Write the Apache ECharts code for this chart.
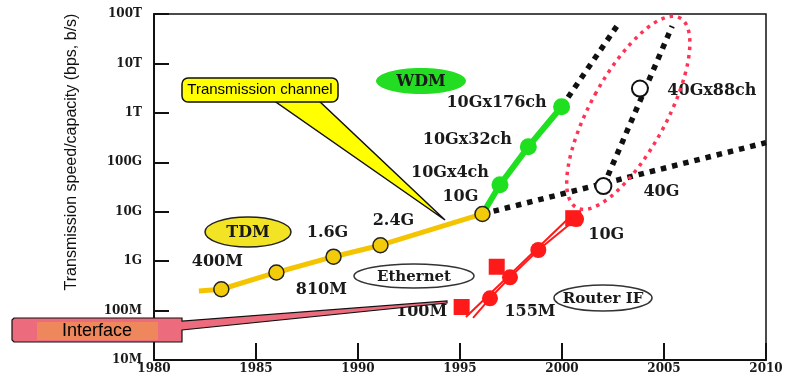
<!DOCTYPE html>
<html lang="en">
<head>
    <meta charset="UTF-8">
    <script src="https://cdn.jsdelivr.net/npm/echarts@6/dist/echarts.min.js"></script>
    <title>Transmission speed</title>
    <style>html, body { margin: 0; padding: 0; background: #fff; }</style>
</head>
<body>
<div id="chart_main" style="width: 790px; height: 378px"></div>
<script>

    // y axis names, one per decade from 10M up to 100T
    var yTickLabels = ['10M', '100M', '1G', '10G', '100G', '1T', '10T', '100T'];

    // TDM line (first point is only where the line starts)
    var tdmYears = [1982.2, 1983.3, 1986.0, 1988.8, 1991.1, 1996.1];
    var tdmBps = [2.5e8, 2.7e8, 5.9e8, 1.23e9, 2.1e9, 9e9];
    var tdmNames = ['', '400M', '810M', '1.6G', '2.4G', '10G'];

    // WDM, starting at the 10G TDM point
    var wdmYears = [1996.1, 1996.96, 1998.35, 1999.98];
    var wdmBps = [9e9, 3.5e10, 2.07e11, 1.33e12];
    var wdmNames = ['', '10Gx4ch', '10Gx32ch', '10Gx176ch'];

    // dotted projections
    var wdmTrendYears = [1999.98, 2002.84];
    var wdmTrendBps = [1.33e12, 7e13];
    var tdmTrendYears = [1996.1, 2010];
    var tdmTrendBps = [9e9, 2.5e11];
    var g40TrendYears = [2002.03, 2005.4];
    var g40TrendBps = [3.3e10, 5.7e13];

    // 40G open circles
    var g40Years = [2002.03, 2003.82];
    var g40Bps = [3.3e10, 3.1e12];
    var g40Names = ['40G', '40Gx88ch'];

    // Ethernet squares and its line
    var ethYears = [1995.08, 1996.8, 2000.55];
    var ethBps = [1.18e8, 7.7e8, 7.4e9];
    var ethNames = ['100M', '', '10G'];
    var ethLineYears = [1995.29, 2000.44];
    var ethLineBps = [7.4e7, 8.2e9];

    // Router interface circles (first point is the line start)
    var routerYears = [1995.64, 1996.47, 1997.45, 1998.84, 2000.69];
    var routerBps = [7.1e7, 1.77e8, 4.7e8, 1.68e9, 7.1e9];
    var routerNames = ['', '155M', '', '', ''];

    // label offsets (pixels from the point), layout only
    var tdmLabelOffsets = [null, [-4, -27], [45, 17], [-6, -24], [13, -24], [-22, -17]];
    var wdmLabelOffsets = [null, [-50, -12], [-61, -7], [-65, -4]];
    var g40LabelOffsets = [[58, 6], [72, 2]];
    var ethLabelOffsets = [[-40, 5], null, [33, 17]];
    var routerLabelOffsets = [null, [40, 14], null, null, null];

    // red dotted oval, centre in data units
    var ovalCenter = [2003.25, 1e12];

    var serifBold = {fontFamily: '"DejaVu Serif", serif', fontWeight: 'bold', color: '#1a1a1a'};

    function buildPoints(years, values, names, offsets, firstBare) {
        var out = [];
        for (var i = 0; i < years.length; i++) {
            var p = {value: [years[i], values[i]]};
            if (names && names[i]) {
                p.name = names[i];
                p.label = {show: true, offset: offsets[i]};
            }
            if (firstBare && i == 0) {
                p.symbol = 'none';
            }
            out.push(p);
        }
        return out;
    }

    function dotted(years, values) {
        return {
            type: 'line',
            data: buildPoints(years, values),
            symbol: 'none',
            lineStyle: {color: '#111', width: 5.5, type: [5.5, 6], cap: 'butt'},
            z: 2,
            silent: true
        };
    }

    var labelBase = {
        show: false,
        position: 'inside',
        formatter: '{b}',
        fontSize: 16,
        fontFamily: serifBold.fontFamily,
        fontWeight: 'bold',
        color: '#1a1a1a'
    };

    var Chart_Main = echarts.init(document.getElementById('chart_main'));

    var option = {
        animation: false,
        backgroundColor: '#fff',
        grid: {
            left: 154, right: 24, top: 14, bottom: 18,
            show: true, borderColor: '#111', borderWidth: 1.5,
            containLabel: false, outerBoundsMode: 'none'
        },
        xAxis: {
            type: 'value',
            min: 1980, max: 2010, interval: 5,
            axisLine: {show: true, lineStyle: {color: '#111', width: 2}},
            axisTick: {show: true, inside: true, length: 17, lineStyle: {color: '#111', width: 2}},
            axisLabel: {
                margin: 3, fontSize: 12, fontFamily: serifBold.fontFamily, fontWeight: 'bold', color: '#1a1a1a',
                formatter: function (v) { return String(v); }
            },
            splitLine: {show: false}
        },
        yAxis: {
            type: 'log', logBase: 10,
            min: 1e7, max: 1e14,
            axisLine: {show: true, lineStyle: {color: '#111', width: 2}},
            axisTick: {show: true, inside: true, length: 15, lineStyle: {color: '#111', width: 2}},
            axisLabel: {
                margin: 12, fontSize: 12, fontFamily: serifBold.fontFamily, fontWeight: 'bold', color: '#1a1a1a',
                formatter: function (v) {
                    var k = Math.round(Math.log10(v)) - 7;
                    return yTickLabels[k] || '';
                }
            },
            splitLine: {show: false}
        },
        series: [
            dotted(wdmTrendYears, wdmTrendBps),
            dotted(tdmTrendYears, tdmTrendBps),
            dotted(g40TrendYears, g40TrendBps),
            {
                name: 'WDM', type: 'line',
                data: buildPoints(wdmYears, wdmBps, wdmNames, wdmLabelOffsets, true),
                symbol: 'circle', symbolSize: 17, showAllSymbol: true,
                lineStyle: {color: '#1fe01f', width: 6},
                itemStyle: {color: '#1fe01f'},
                label: labelBase,
                z: 3
            },
            {
                name: 'TDM', type: 'line',
                data: buildPoints(tdmYears, tdmBps, tdmNames, tdmLabelOffsets, true),
                symbol: 'circle', symbolSize: 15, showAllSymbol: true,
                lineStyle: {color: '#f5c400', width: 5},
                itemStyle: {color: '#f2cb0a', borderColor: '#222', borderWidth: 1.5},
                label: labelBase,
                z: 4
            },
            {
                name: 'Ethernet line', type: 'line',
                data: buildPoints(ethLineYears, ethLineBps),
                symbol: 'none',
                lineStyle: {color: '#ff1a1a', width: 2},
                z: 3
            },
            {
                name: 'Router IF', type: 'line',
                data: buildPoints(routerYears, routerBps, routerNames, routerLabelOffsets, true),
                symbol: 'circle', symbolSize: 16, showAllSymbol: true,
                lineStyle: {color: '#ff1a1a', width: 2},
                itemStyle: {color: '#ff1a1a'},
                label: labelBase,
                z: 4
            },
            {
                name: 'Ethernet', type: 'scatter',
                data: buildPoints(ethYears, ethBps, ethNames, ethLabelOffsets),
                symbol: 'rect', symbolSize: 16,
                itemStyle: {color: '#ff1a1a', opacity: 1},
                label: labelBase,
                z: 5
            },
            {
                name: '40G', type: 'scatter',
                data: buildPoints(g40Years, g40Bps, g40Names, g40LabelOffsets),
                symbol: 'circle', symbolSize: 16,
                itemStyle: {color: '#fff', borderColor: '#111', borderWidth: 2, opacity: 1},
                label: labelBase,
                z: 5
            }
        ]
    };

    Chart_Main.setOption(option);

    var oval = Chart_Main.convertToPixel({gridIndex: 0}, ovalCenter);

    function pill(cx, cy, rx, ry, fill, stroke, text, size) {
        return [
            {type: 'ellipse', shape: {cx: cx, cy: cy, rx: rx, ry: ry},
                style: {fill: fill, stroke: stroke, lineWidth: stroke == 'none' ? 0 : 1.5}, z: 20},
            {type: 'text', x: cx, y: cy + 1,
                style: {text: text, fontSize: size, fontFamily: serifBold.fontFamily, fontWeight: 'bold',
                    fill: '#1a1a1a', align: 'center', verticalAlign: 'middle'}, z: 21}
        ];
    }

    var elements = [
        // y axis title
        {type: 'text', x: 72, y: 152, rotation: Math.PI / 2,
            style: {text: 'Transmission speed/capacity (bps, b/s)', fontSize: 16,
                fontFamily: '"Liberation Sans", Arial, sans-serif', fill: '#111',
                align: 'center', verticalAlign: 'middle'}, z: 20},
        // red dotted oval
        {type: 'ellipse', x: oval[0], y: oval[1], rotation: -0.5,
            shape: {cx: 0, cy: 0, rx: 38, ry: 108},
            style: {fill: 'none', stroke: '#ff3355', lineWidth: 3.5, lineDash: [3.5, 5]}, z: 19},
        // Transmission channel callout
        {type: 'polygon', shape: {points: [[273, 100], [318, 100], [445, 220]]},
            style: {fill: '#ffff00', stroke: '#111', lineWidth: 1.5}, z: 20},
        {type: 'rect', shape: {x: 182, y: 78, width: 156, height: 24, r: 6},
            style: {fill: '#ffff00', stroke: '#111', lineWidth: 1.5}, z: 21},
        {type: 'text', x: 260, y: 90,
            style: {text: 'Transmission channel', fontSize: 15,
                fontFamily: '"Liberation Sans", Arial, sans-serif', fill: '#000',
                align: 'center', verticalAlign: 'middle'}, z: 22},
        // Interface callout
        {type: 'polygon', shape: {points: [[12, 320], [14, 318], [182, 318], [182, 321], [447, 301],
                    [447, 303], [182, 330], [182, 342], [14, 342], [12, 340]]},
            style: {fill: '#ec6b7d', stroke: '#111', lineWidth: 1.2}, z: 20},
        {type: 'rect', shape: {x: 37, y: 322, width: 121, height: 18},
            style: {fill: '#ef875d'}, z: 21},
        {type: 'text', x: 97, y: 331,
            style: {text: 'Interface', fontSize: 18,
                fontFamily: '"Liberation Sans", Arial, sans-serif', fill: '#000',
                align: 'center', verticalAlign: 'middle'}, z: 22}
    ];
    elements = elements
        .concat(pill(421, 81, 45, 13, '#22dd22', 'none', 'WDM', 16))
        .concat(pill(248, 232, 43, 15, '#f2e424', '#222', 'TDM', 16))
        .concat(pill(414, 276, 60, 12, '#fff', '#333', 'Ethernet', 15))
        .concat(pill(603, 298, 49, 13, '#fff', '#333', 'Router IF', 15));

    Chart_Main.setOption({graphic: {elements: elements}});

</script>
</body>
</html>
